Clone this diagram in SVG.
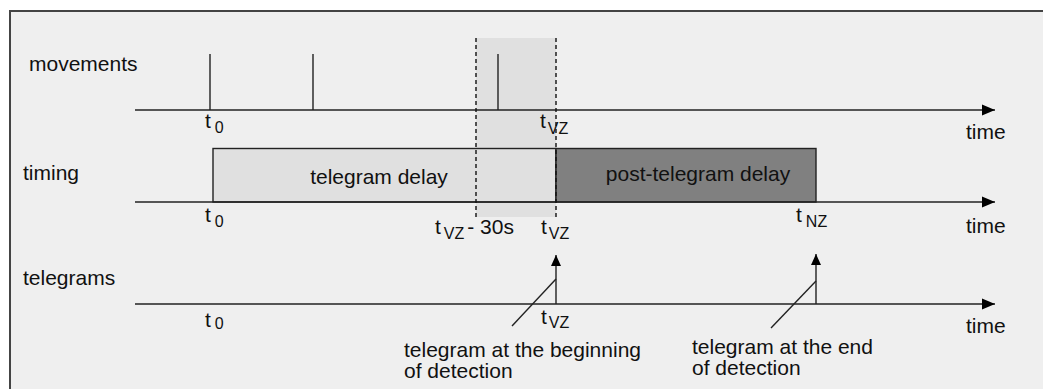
<svg xmlns="http://www.w3.org/2000/svg" width="1043" height="389" viewBox="0 0 1043 389">
<defs>
<style>
.t{font-family:"Liberation Sans",Arial,sans-serif;font-size:21px;fill:#111}
.s{font-family:"Liberation Sans",Arial,sans-serif;font-size:16px;fill:#111}
.ax{stroke:#222;stroke-width:1.4;fill:none}
.ln{stroke:#222;stroke-width:1.4;fill:none}
.dash{stroke:#111;stroke-width:1.4;stroke-dasharray:4,3;fill:none}
</style>
<marker id="ah" markerWidth="14" markerHeight="12" refX="13" refY="6" orient="auto" markerUnits="userSpaceOnUse">
<path d="M0,0.5 L13,6 L0,11.5 Z" fill="#000"/>
</marker>
<marker id="au" markerWidth="12" markerHeight="12" refX="11" refY="5" orient="auto" markerUnits="userSpaceOnUse">
<path d="M0,0 L11,5 L0,10 Z" fill="#000"/>
</marker>
</defs>
<rect x="0" y="0" width="1043" height="389" fill="#ffffff"/>
<rect id="frame" x="10" y="11" width="1040" height="390" fill="#efefef" stroke="#444" stroke-width="2"/>

<g id="shade">
<rect x="476" y="38" width="80" height="179" fill="#e0e0e0"/>
</g>

<g id="timing-boxes">
<g id="telegram-delay">
<rect x="213" y="148.5" width="343" height="53.5" fill="#e0e0e0" stroke="#222" stroke-width="1.4"/>
<text class="t" x="379" y="184" text-anchor="middle">telegram delay</text>
</g>
<g id="post-telegram-delay">
<rect x="556" y="148.5" width="260" height="53.5" fill="#808080" stroke="#222" stroke-width="1.4"/>
<text class="t" x="698" y="181" text-anchor="middle">post-telegram delay</text>
</g>
</g>

<g id="labels">
<text class="t" x="29" y="71">movements</text>
<text class="t" x="23" y="180">timing</text>
<text class="t" x="23" y="285">telegrams</text>
<text class="t" x="966" y="139">time</text>
<text class="t" x="966" y="233">time</text>
<text class="t" x="966" y="333">time</text>
<text class="t" x="205" y="128">t<tspan class="s" dx="4" dy="5">0</tspan></text>
<text class="t" x="540" y="128">t<tspan class="s" dx="2" dy="6">VZ</tspan></text>
<text class="t" x="205" y="222">t<tspan class="s" dx="4" dy="5">0</tspan></text>
<text class="t" x="435" y="234">t<tspan class="s" dx="3" dy="5">VZ</tspan><tspan dx="3" dy="-5">- 30s</tspan></text>
<text class="t" x="541" y="234">t<tspan class="s" dx="2" dy="5">VZ</tspan></text>
<text class="t" x="796" y="222">t<tspan class="s" dx="4" dy="5">NZ</tspan></text>
<text class="t" x="205" y="327">t<tspan class="s" dx="4" dy="2">0</tspan></text>
<text class="t" x="541" y="324">t<tspan class="s" dx="2" dy="4">VZ</tspan></text>
<text class="t" x="404" y="357">telegram at the beginning</text>
<text class="t" x="404" y="378">of detection</text>
<text class="t" x="692" y="354">telegram at the end</text>
<text class="t" x="692" y="375">of detection</text>
</g>

<g id="connectors">
<line class="ax" x1="135" y1="110" x2="995" y2="110" marker-end="url(#ah)"/>
<line class="ax" x1="135" y1="202" x2="995" y2="202" marker-end="url(#ah)"/>
<line class="ax" x1="135" y1="304" x2="995" y2="304" marker-end="url(#ah)"/>
<line class="ln" x1="210" y1="54" x2="210" y2="110"/>
<line class="ln" x1="313" y1="54" x2="313" y2="110"/>
<line class="ln" x1="498" y1="54" x2="498" y2="110"/>
<line class="dash" x1="476" y1="38" x2="476" y2="217"/>
<line class="dash" x1="556" y1="38" x2="556" y2="219"/>
<line class="ln" x1="556" y1="304" x2="556" y2="255" marker-end="url(#au)"/>
<line class="ln" x1="816" y1="304" x2="816" y2="254" marker-end="url(#au)"/>
<line class="ln" x1="512" y1="326" x2="556" y2="279"/>
<line class="ln" x1="771" y1="328" x2="816" y2="281"/>
</g>
</svg>
